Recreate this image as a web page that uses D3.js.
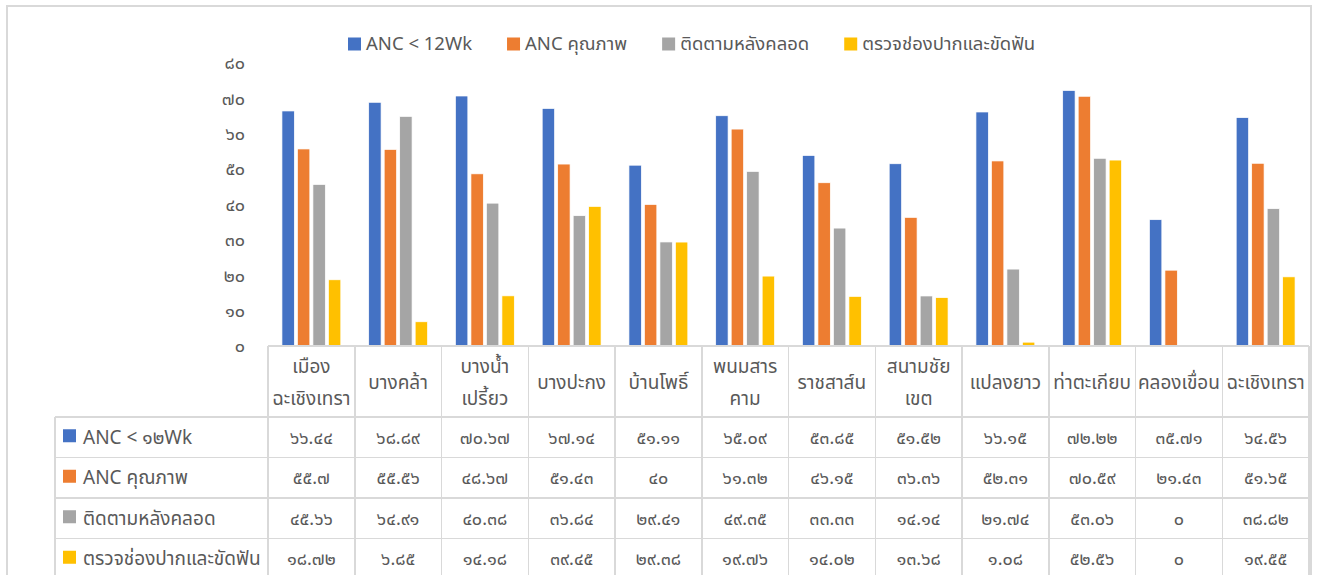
<!DOCTYPE html>
<html>
<head>
    <meta http-equiv="Content-Type" content="text/html;charset=utf-8">
    <title>ANC chart with data table</title>
    <script type="text/javascript" src="https://d3js.org/d3.v7.min.js"></script>
    <style>
        html, body {
            margin: 0;
            padding: 0;
            background: #fff;
        }
        text {
            font-family: "Leelawadee UI", "Noto Sans Thai", "Noto Sans", "DejaVu Sans", sans-serif;
            fill: #595959;
        }
        text.tick { font-size: 18px; }
        text.legendText { font-size: 18.5px; }
        text.keyText { font-size: 19px; }
        text.cellText { font-size: 18px; }
        text.catText { font-size: 19px; }
        line.grid {
            stroke: #d9d9d9;
            stroke-width: 1.5px;
            shape-rendering: crispEdges;
        }
    </style>
</head>
<body>
<script type="text/javascript">

    // categories (each split into its display lines)
    var categories = [
        ["เมือง", "ฉะเชิงเทรา"],
        ["บางคล้า"],
        ["บางน้ำ", "เปรี้ยว"],
        ["บางปะกง"],
        ["บ้านโพธิ์"],
        ["พนมสาร", "คาม"],
        ["ราชสาส์น"],
        ["สนามชัย", "เขต"],
        ["แปลงยาว"],
        ["ท่าตะเกียบ"],
        ["คลองเขื่อน"],
        ["ฉะเชิงเทรา"]
    ];

    var seriesNames = ["ANC < 12Wk", "ANC คุณภาพ", "ติดตามหลังคลอด", "ตรวจช่องปากและขัดฟัน"];
    var colorTable = ["#4472C4", "#ED7D31", "#A5A5A5", "#FFC000"];

    var ancEarly   = [66.44, 68.89, 70.67, 67.14, 51.11, 65.09, 53.85, 51.52, 66.15, 72.22, 35.71, 64.56];
    var ancQuality = [55.7, 55.56, 48.67, 51.43, 40, 61.32, 46.15, 36.36, 52.31, 70.59, 21.43, 51.65];
    var postpartum = [45.66, 64.91, 40.38, 36.84, 29.41, 49.35, 33.33, 14.14, 21.74, 53.06, 0, 38.82];
    var oralCheck  = [18.72, 6.85, 14.18, 39.45, 29.38, 19.76, 14.02, 13.68, 1.08, 52.56, 0, 19.55];

    var yTicks = [0, 10, 20, 30, 40, 50, 60, 70, 80];

    var seriesValues = [ancEarly, ancQuality, postpartum, oralCheck];

    // convert arabic digits into thai digits
    var thaiDigits = "๐๑๒๓๔๕๖๗๘๙";
    function toThai(s) {
        return String(s).replace(/[0-9]/g, function (c) { return thaiDigits[+c]; });
    }

    var W = 1317, H = 575;
    var plotLeft = 268, plotRight = 1309, plotBottom = 346, plotTop = 63;
    var headerBottom = 417, rowH = 40.5, keyLeft = 55;

    var svg = d3.select("body").append("svg").attr("width", W).attr("height", H);

    // chart border
    svg.append("rect")
        .attr("x", 7).attr("y", 6)
        .attr("width", 1304).attr("height", 620)
        .style("fill", "none")
        .style("stroke", "#d9d9d9")
        .style("stroke-width", 2);

    var catIdx = d3.range(categories.length);
    var x0 = d3.scaleBand()
        .domain(catIdx)
        .range([plotLeft, plotRight])
        .paddingInner(0).paddingOuter(0);

    var x1 = d3.scaleBand()
        .domain(d3.range(seriesNames.length))
        .range([0, x0.bandwidth()])
        .paddingInner(0.2).paddingOuter(0.9);

    var y = d3.scaleLinear()
        .domain([0, 80])
        .range([plotBottom, plotTop]);

    // y axis (labels only)
    var yAxis = d3.axisLeft(y)
        .tickValues(yTicks)
        .tickSize(0)
        .tickPadding(3)
        .tickFormat(function (d) { return toThai(d); });
    var yG = svg.append("g").attr("transform", "translate(248,0)").call(yAxis);
    yG.select(".domain").remove();
    yG.attr("font-family", null).attr("font-size", null);
    yG.selectAll("text").attr("class", "tick");

    // bars
    var groups = svg.selectAll(".cat")
        .data(catIdx).enter()
        .append("g")
        .attr("class", "cat")
        .attr("transform", function (c) { return "translate(" + x0(c) + ",0)"; });

    groups.selectAll("rect")
        .data(function (c) {
            return seriesValues.map(function (vals, s) { return {s: s, v: vals[c]}; });
        }).enter()
        .append("rect")
        .attr("x", function (d) { return x1(d.s); })
        .attr("width", x1.bandwidth())
        .attr("y", function (d) { return y(d.v); })
        .attr("height", function (d) { return y(0) - y(d.v); })
        .style("fill", function (d) { return colorTable[d.s]; })
        .style("stroke", function (d) { return d.v > 0 ? "#fff" : "none"; })
        .style("stroke-width", 0.7);

    // top legend
    var legend = svg.append("g").attr("class", "legendWrap").attr("transform", "translate(348,44)");
    var lx = 0;
    seriesNames.forEach(function (name, i) {
        var item = legend.append("g").attr("transform", "translate(" + lx + ",0)");
        item.append("rect")
            .attr("x", 0).attr("y", -6.5)
            .attr("width", 13).attr("height", 13)
            .style("fill", colorTable[i]);
        var t = item.append("text")
            .attr("class", "legendText")
            .attr("x", 18)
            .attr("dy", "0.35em")
            .text(name);
        lx += 18 + t.node().getComputedTextLength() + 35;
    });

    // data table grid
    var tableBottom = headerBottom + rowH * seriesNames.length;
    var grid = svg.append("g").attr("class", "tableGrid");

    grid.append("line").attr("class", "grid")
        .attr("x1", plotLeft).attr("x2", plotRight)
        .attr("y1", plotBottom).attr("y2", plotBottom);

    d3.range(seriesNames.length + 1).forEach(function (r) {
        var yy = headerBottom + r * rowH;
        grid.append("line").attr("class", "grid")
            .attr("x1", keyLeft).attr("x2", plotRight)
            .attr("y1", yy).attr("y2", yy);
    });

    grid.append("line").attr("class", "grid")
        .attr("x1", keyLeft).attr("x2", keyLeft)
        .attr("y1", headerBottom).attr("y2", tableBottom);

    catIdx.concat([categories.length]).forEach(function (c) {
        var xx = c < categories.length ? x0(c) : plotRight;
        grid.append("line").attr("class", "grid")
            .attr("x1", xx).attr("x2", xx)
            .attr("y1", plotBottom).attr("y2", tableBottom);
    });

    // category header cells
    var headerMid = (plotBottom + headerBottom) / 2 + 1;
    catIdx.forEach(function (c) {
        var lines = categories[c];
        var cx = x0(c) + x0.bandwidth() / 2;
        lines.forEach(function (ln, k) {
            var yy = lines.length === 1 ? headerMid : headerMid + (k - 0.5) * 32;
            svg.append("text")
                .attr("class", "catText")
                .attr("x", cx).attr("y", yy)
                .attr("text-anchor", "middle")
                .attr("dy", "0.35em")
                .text(ln);
        });
    });

    // table rows: legend key + values
    seriesNames.forEach(function (name, s) {
        var cy = headerBottom + s * rowH + rowH / 2;
        svg.append("rect")
            .attr("x", 63).attr("y", cy - 8)
            .attr("width", 13).attr("height", 13)
            .style("fill", colorTable[s]);
        svg.append("text")
            .attr("class", "keyText")
            .attr("x", 83).attr("y", cy)
            .attr("dy", "0.35em")
            .text(toThai(name));

        catIdx.forEach(function (c) {
            svg.append("text")
                .attr("class", "cellText")
                .attr("x", x0(c) + x0.bandwidth() / 2)
                .attr("y", cy)
                .attr("dy", "0.35em")
                .attr("text-anchor", "middle")
                .text(toThai(seriesValues[s][c]));
        });
    });

</script>
</body>
</html>
